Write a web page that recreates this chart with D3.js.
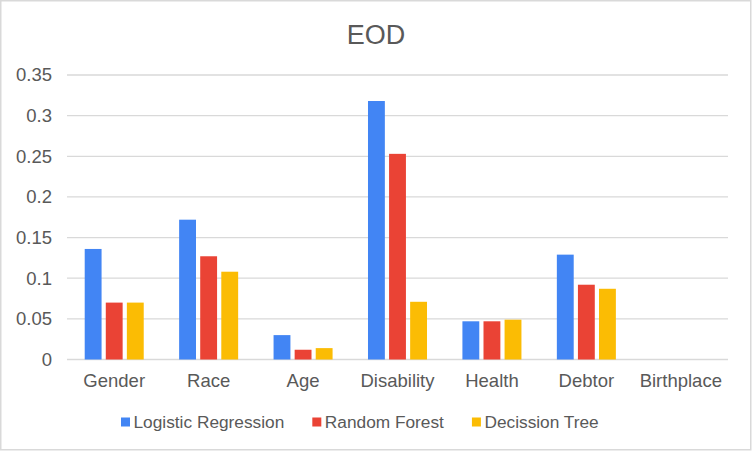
<!DOCTYPE html>
<html>
<head>
<meta charset="utf-8">
<script src="https://cdn.jsdelivr.net/npm/d3@7"></script>
<style>
    body { margin: 0; background: #fff; }
    text { font-family: "Liberation Sans", Arial, sans-serif; fill: #595959; }
</style>
</head>
<body>
<div id="chart"></div>
<script>
// Data
let categories = ["Gender", "Race", "Age", "Disability", "Health", "Debtor", "Birthplace"];
let seriesNames = ["Logistic Regression", "Random Forest", "Decission Tree"];
let logisticRegression = [0.136, 0.172, 0.030, 0.318, 0.047, 0.129, 0];
let randomForest = [0.070, 0.127, 0.012, 0.253, 0.047, 0.092, 0];
let decisionTree = [0.070, 0.108, 0.014, 0.071, 0.049, 0.087, 0];
let yTicks = [0, 0.05, 0.1, 0.15, 0.2, 0.25, 0.3, 0.35];
let colors = ["#4285F4", "#EA4335", "#FBBC04"];

function drawChart() {
    let width = 752, height = 452;
    let margin = {top: 75, right: 24, bottom: 92.5, left: 67};
    let innerW = width - margin.left - margin.right;
    let innerH = height - margin.top - margin.bottom;

    let svg = d3.select("#chart")
        .append("svg")
        .attr("width", width)
        .attr("height", height);

    // chart border
    svg.append("rect")
        .attr("x", 0.75).attr("y", 0.75)
        .attr("width", 750).attr("height", 449)
        .attr("fill", "#fff")
        .attr("stroke", "#D9D9D9")
        .attr("stroke-width", 1.5);

    // Title
    svg.append("text")
        .attr("x", width / 2)
        .attr("y", 44)
        .style("text-anchor", "middle")
        .style("font-size", "27px")
        .text("EOD");

    let g = svg.append("g")
        .attr("transform", "translate(" + margin.left + "," + margin.top + ")");

    let x0 = d3.scaleBand()
        .domain(categories)
        .range([0, innerW])
        .padding(0);

    let groupPad = x0.bandwidth() * 0.1875;
    let x1 = d3.scaleBand()
        .domain(seriesNames)
        .range([groupPad, x0.bandwidth() - groupPad])
        .paddingInner(0.2);

    let y = d3.scaleLinear()
        .domain([0, 0.35])
        .range([innerH, 0]);

    // gridlines
    g.append("g")
        .selectAll("line")
        .data(yTicks)
        .enter()
        .append("line")
        .attr("x1", 0)
        .attr("x2", innerW)
        .attr("y1", function (d) { return y(d); })
        .attr("y2", function (d) { return y(d); })
        .attr("stroke", "#D9D9D9")
        .attr("stroke-width", 1.3);

    // y axis labels
    let yAxis = g.append("g")
        .call(d3.axisLeft(y).tickValues(yTicks).tickSize(0).tickPadding(15)
            .tickFormat(function (d) { return String(+d.toFixed(2)); }));
    yAxis.select(".domain").remove();
    yAxis.selectAll("text")
        .style("font-size", "18.5px")
        .style("font-family", "'Liberation Sans', Arial, sans-serif")
        .attr("fill", "#595959");

    // x axis labels
    let xAxis = g.append("g")
        .attr("transform", "translate(0," + innerH + ")")
        .call(d3.axisBottom(x0).tickSize(0).tickPadding(14));
    xAxis.select(".domain").remove();
    xAxis.selectAll("text")
        .style("font-size", "18.5px")
        .style("font-family", "'Liberation Sans', Arial, sans-serif")
        .attr("fill", "#595959");

    let allSeries = [logisticRegression, randomForest, decisionTree];
    let data = categories.map(function (c, i) {
        return {
            category: c,
            values: seriesNames.map(function (s, j) {
                return {name: s, value: allSeries[j][i], color: colors[j]};
            })
        };
    });

    let groups = g.selectAll(".group")
        .data(data)
        .enter()
        .append("g")
        .attr("class", "group")
        .attr("transform", function (d) { return "translate(" + x0(d.category) + ",0)"; });

    groups.selectAll("rect")
        .data(function (d) { return d.values; })
        .enter()
        .append("rect")
        .attr("x", function (d) { return x1(d.name); })
        .attr("width", x1.bandwidth())
        .attr("y", function (d) { return y(d.value); })
        .attr("height", function (d) { return innerH - y(d.value); })
        .attr("fill", function (d) { return d.color; });

    // Legend
    let legend = svg.append("g");
    let lx = 121;
    seriesNames.forEach(function (name, i) {
        legend.append("rect")
            .attr("x", lx)
            .attr("y", 417.5)
            .attr("width", 9)
            .attr("height", 9)
            .attr("fill", colors[i]);
        let t = legend.append("text")
            .attr("x", lx + 12.5)
            .attr("y", 428)
            .style("font-size", "17.3px")
            .text(name);
        lx = lx + 12.5 + t.node().getComputedTextLength() + 28;
    });
}

drawChart();
</script>
</body>
</html>
